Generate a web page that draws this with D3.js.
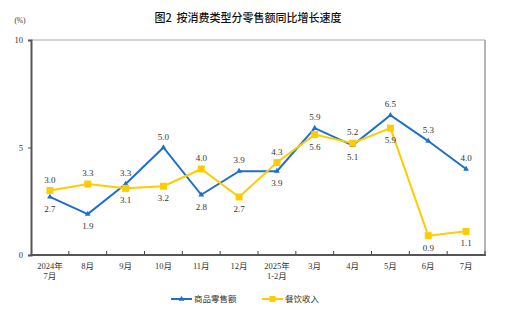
<!DOCTYPE html>
<html><head><meta charset="utf-8">
<script src="https://cdn.jsdelivr.net/npm/d3@7"></script>
<style>body{margin:0;background:#fff}svg{display:block}</style>
</head><body>
<script>
const categories = [["2024年","7月"],["8月"],["9月"],["10月"],["11月"],["12月"],["2025年","1-2月"],["3月"],["4月"],["5月"],["6月"],["7月"]];
const goods = [2.7, 1.9, 3.3, 5.0, 2.8, 3.9, 3.9, 5.9, 5.1, 6.5, 5.3, 4.0];
const catering = [3.0, 3.3, 3.1, 3.2, 4.0, 2.7, 4.3, 5.6, 5.2, 5.9, 0.9, 1.1];
const yTicks = [0, 5, 10];
const seriesNames = ["商品零售额", "餐饮收入"];

(function () {
const W = 505, H = 321;
const pLeft = 31, pRight = 485, pTop = 40, pBottom = 255;
const blue = "#1c6fd1", yellow = "#ffcc00";
const numFont = "'Liberation Serif','Times New Roman',serif";
const cjkFont = "'Liberation Serif','Noto Sans CJK SC',serif";

const svg = d3.select("body").append("svg").attr("width", W).attr("height", H);

const x = d3.scaleBand().domain(d3.range(categories.length)).range([pLeft, pRight]);
const y = d3.scaleLinear().domain([0, 10]).range([pBottom, pTop]);
const cx = i => x(i) + x.bandwidth() / 2;

// title
svg.append("text").attr("x", 248).attr("y", 22).attr("text-anchor", "middle")
  .attr("font-family", "'Noto Sans CJK SC',sans-serif").attr("font-size", 11).attr("font-weight", 500).attr("fill", "#111")
  .text("图2\u00a0\u00a0按消费类型分零售额同比增长速度");
svg.append("text").attr("x", 20).attr("y", 23).attr("text-anchor", "middle")
  .attr("font-family", cjkFont).attr("font-size", 7.5).attr("fill", "#333").text("(%)");

// frame top & right
svg.append("line").attr("x1", pLeft).attr("x2", pRight).attr("y1", pTop).attr("y2", pTop)
  .attr("stroke", "#c4c4c4").attr("stroke-width", 1.5);
svg.append("line").attr("x1", pRight).attr("x2", pRight).attr("y1", pTop).attr("y2", pBottom)
  .attr("stroke", "#b4b4b4").attr("stroke-width", 2);

// y axis
const yAxis = d3.axisLeft(y).tickValues(yTicks).tickSize(3).tickPadding(5);
const gy = svg.append("g").attr("transform", `translate(${pLeft},0)`).call(yAxis);
gy.select(".domain").attr("stroke", "#555").attr("stroke-width", 2);
gy.selectAll(".tick line").attr("stroke", "#555");
gy.selectAll(".tick text").attr("font-family", numFont).attr("font-size", 8.5).attr("fill", "#333");

// x axis: ticks at band boundaries, pointing inward
const boundaries = d3.range(1, categories.length + 1).map(i => pLeft + i * x.step());
svg.append("g").selectAll("line").data(boundaries).join("line")
  .attr("x1", d => d).attr("x2", d => d).attr("y1", pBottom).attr("y2", pBottom - 4)
  .attr("stroke", "#444").attr("stroke-width", 1);
svg.append("line").attr("x1", pLeft - 1).attr("x2", pRight + 1).attr("y1", pBottom).attr("y2", pBottom)
  .attr("stroke", "#555").attr("stroke-width", 2);

const xl = svg.append("g");
categories.forEach((c, i) => {
  const t = xl.append("text").attr("x", cx(i)).attr("y", 269).attr("text-anchor", "middle")
    .attr("font-family", cjkFont).attr("font-size", 8.5).attr("fill", "#333");
  c.forEach((s, k) => t.append("tspan").attr("x", cx(i)).attr("dy", k === 0 ? 0 : 10).text(s));
});

// lines
const line = d3.line().x((d, i) => cx(i)).y(d => y(d));
svg.append("path").datum(goods).attr("d", line).attr("fill", "none").attr("stroke", blue).attr("stroke-width", 2);
svg.append("path").datum(catering).attr("d", line).attr("fill", "none").attr("stroke", yellow).attr("stroke-width", 2);

// markers
const tri = d3.symbol().type(d3.symbolTriangle).size(14);
svg.append("g").selectAll("path").data(goods).join("path")
  .attr("d", tri).attr("transform", (d, i) => `translate(${cx(i)},${y(d)})`).attr("fill", blue);
svg.append("g").selectAll("rect").data(catering).join("rect")
  .attr("x", (d, i) => cx(i) - 3.5).attr("y", d => y(d) - 3.5).attr("width", 7).attr("height", 7).attr("fill", yellow);

// value labels: higher above, lower below
const labels = svg.append("g").attr("font-family", numFont).attr("font-size", 9).attr("fill", "#333").attr("text-anchor", "middle");
goods.forEach((g, i) => {
  const c = catering[i];
  const gAbove = g >= c;
  [[g, gAbove], [c, !gAbove]].forEach(([v, above]) => {
    labels.append("text").attr("x", cx(i)).attr("y", above ? y(v) - 8 : y(v) + 15).text(v.toFixed(1));
  });
});

// legend
const lg = svg.append("g").attr("font-family", "'Noto Sans CJK SC',sans-serif").attr("font-size", 8.5).attr("fill", "#333");
[[171, blue, "tri"], [262, yellow, "sq"]].forEach(([lx, col, m], k) => {
  lg.append("line").attr("x1", lx).attr("x2", lx + 21).attr("y1", 299).attr("y2", 299).attr("stroke", col).attr("stroke-width", 2);
  if (m === "tri") lg.append("path").attr("d", tri).attr("transform", `translate(${lx + 10.5},299)`).attr("fill", col);
  else lg.append("rect").attr("x", lx + 7.5).attr("y", 296).attr("width", 6).attr("height", 6).attr("fill", col);
  lg.append("text").attr("x", lx + 23).attr("y", 302).text(seriesNames[k]);
});
})();
</script>
</body></html>
